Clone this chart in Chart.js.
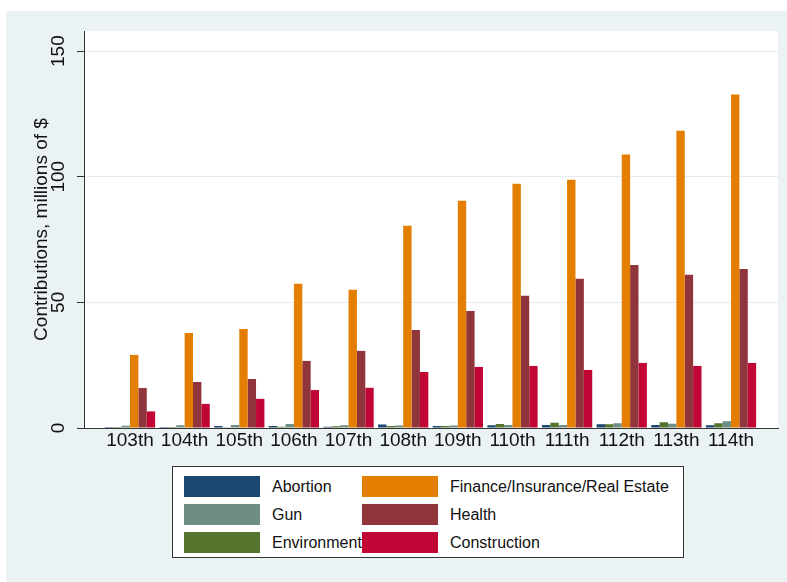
<!DOCTYPE html>
<html>
<head>
<meta charset="utf-8">
<script src="https://cdn.jsdelivr.net/npm/chart.js@4"></script>
<style>
  body { margin: 0; background: #fff; width: 787px; height: 582px; overflow: hidden; font-family: "Liberation Sans", Arial, sans-serif; }
  #frame { position: absolute; left: 6px; top: 11px; width: 781px; height: 571px; background: #eaf2f3; }
  #chart { position: absolute; left: 0; top: 0; }
  #legend { position: absolute; left: 166px; top: 455px; width: 512px; height: 92px; background: #fff; border: 1px solid #333; box-sizing: border-box; }
  .item { position: absolute; height: 21px; }
  .swatch { position: absolute; left: 0; top: 0; width: 76px; height: 21px; }
  .label { position: absolute; left: 88px; top: 1px; font-size: 16px; color: #111; white-space: nowrap; line-height: 20px; }
</style>
</head>
<body>
<div id="frame">
  <canvas id="chart" width="781" height="571"></canvas>
  <div id="legend"></div>
</div>
<script>
const congresses = ["103th", "104th", "105th", "106th", "107th", "108th", "109th", "110th", "111th", "112th", "113th", "114th"];

const abortion = [0.4, 0.4, 0.8, 0.8, 0.5, 1.4, 0.8, 1.1, 1.2, 1.5, 1.2, 1.1];
const environment = [0.4, 0.4, 0.3, 0.5, 0.7, 0.8, 0.8, 1.6, 2.1, 1.5, 2.3, 1.9];
const gun = [0.9, 1.1, 1.2, 1.6, 1.1, 1.0, 1.0, 1.2, 1.2, 1.9, 1.7, 2.7];
const finance = [29.1, 37.8, 39.4, 57.4, 55.0, 80.5, 90.4, 97.2, 98.8, 108.8, 118.3, 132.7];
const health = [15.9, 18.3, 19.5, 26.7, 30.7, 39.0, 46.6, 52.6, 59.4, 64.9, 61.0, 63.3];
const construction = [6.6, 9.6, 11.6, 15.1, 16.0, 22.3, 24.3, 24.7, 23.1, 25.9, 24.7, 25.9];

const yTicks = [0, 50, 100, 150];

// bar order inside each group, and the order the legend lists them
const series = [
  { label: "Abortion", data: abortion, color: "#1a476f" },
  { label: "Environment", data: environment, color: "#55752f" },
  { label: "Gun", data: gun, color: "#6e8e84" },
  { label: "Finance/Insurance/Real Estate", data: finance, color: "#e37e00" },
  { label: "Health", data: health, color: "#90353b" },
  { label: "Construction", data: construction, color: "#c10534" }
];
const legendOrder = [0, 3, 2, 4, 1, 5];

const plotBg = {
  id: "plotBg",
  beforeDraw(chart) {
    const { ctx, chartArea: a } = chart;
    ctx.save();
    ctx.fillStyle = "#fff";
    ctx.fillRect(a.left, a.top, a.right - a.left, a.bottom - a.top);
    ctx.restore();
  }
};

const font = { family: "'Liberation Sans', Arial, sans-serif", size: 19 };

const chart = new Chart(document.getElementById("chart").getContext("2d"), {
  type: "bar",
  data: {
    datasets: series.map(s => ({
      label: s.label,
      data: s.data.map((v, i) => ({ x: i, y: v })),
      backgroundColor: s.color,
      borderWidth: 0,
      categoryPercentage: 0.92,
      barPercentage: 1
    }))
  },
  options: {
    responsive: false,
    animation: false,
    layout: { padding: { left: 0, top: 20, right: 9, bottom: 120 } },
    plugins: { legend: { display: false }, tooltip: { enabled: false } },
    scales: {
      x: {
        type: "linear",
        offset: false,
        min: -0.842,
        max: 11.86,
        grid: { display: false, drawTicks: false, offset: false },
        border: { color: "#333", width: 1 },
        ticks: {
          stepSize: 1,
          includeBounds: false,
          autoSkip: false,
          maxRotation: 0,
          padding: 1,
          color: "#111",
          font: font,
          callback: v => congresses[v] || ""
        },
        afterFit: s => { s.height = 34; }
      },
      y: {
        min: 0,
        max: 158,
        afterBuildTicks: s => { s.ticks = yTicks.map(v => ({ value: v })); },
        grid: {
          color: ctx => ctx.tick && ctx.tick.value === 0 ? "rgba(0,0,0,0)" : "#e3ecee",
          tickColor: "#333",
          tickLength: 7,
          lineWidth: 1
        },
        border: { color: "#333", width: 1 },
        ticks: {
          minRotation: 90,
          maxRotation: 90,
          crossAlign: "center",
          padding: 2,
          color: "#111",
          font: font
        },
        title: {
          display: true,
          text: "Contributions, millions of $",
          color: "#111",
          font: font,
          padding: { top: 24, bottom: 0 }
        },
        afterFit: s => { s.width = 78; }
      }
    }
  },
  plugins: [plotBg]
});

// legend in two columns, built from the chart datasets
const legendDiv = document.getElementById("legend");
const colX = [11, 189];
const rowY = [9, 37, 65];
legendOrder.forEach((idx, k) => {
  const ds = chart.data.datasets[idx];
  const item = document.createElement("div");
  item.className = "item";
  item.style.left = colX[k % 2] + "px";
  item.style.top = rowY[Math.floor(k / 2)] + "px";
  item.innerHTML = `<div class="swatch" style="background:${ds.backgroundColor}"></div><div class="label">${ds.label}</div>`;
  legendDiv.appendChild(item);
});
</script>
</body>
</html>
